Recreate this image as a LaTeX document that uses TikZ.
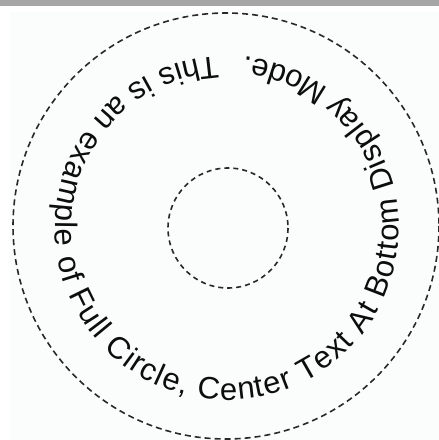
\documentclass[tikz,border=0pt]{standalone}
\usepackage{fontspec}
\setsansfont{Liberation Sans}
\usetikzlibrary{decorations.text}
\begin{document}
\begin{tikzpicture}[x=1pt,y=-1pt,
  ring/.style={draw={rgb,255:red,40;green,40;blue,40},line width=1.6pt,dash pattern=on 6pt off 4pt}]
\path[use as bounding box] (0,0) rectangle (439,440);
\path[fill={rgb,255:red,166;green,166;blue,166}] (0,0) rectangle (439,6);
\path[fill={rgb,255:red,251;green,253;blue,252}] (10,12) rectangle (439,440);
\draw[ring] (226,226) circle[radius=213];
\draw[ring,dash pattern=on 5pt off 4pt] (228,228) circle[radius=60];
\path[decorate,decoration={text along path,text align=fit to path,
  text={|\sffamily\fontsize{31}{36}\selectfont\color{black!95}|This is an example of Full Circle, Center Text At Bottom Display Mode.}}]
  (227,228) ++(-93.3:172) arc[start angle=-93.3,end angle=-444.3,radius=172];
\end{tikzpicture}
\end{document}
